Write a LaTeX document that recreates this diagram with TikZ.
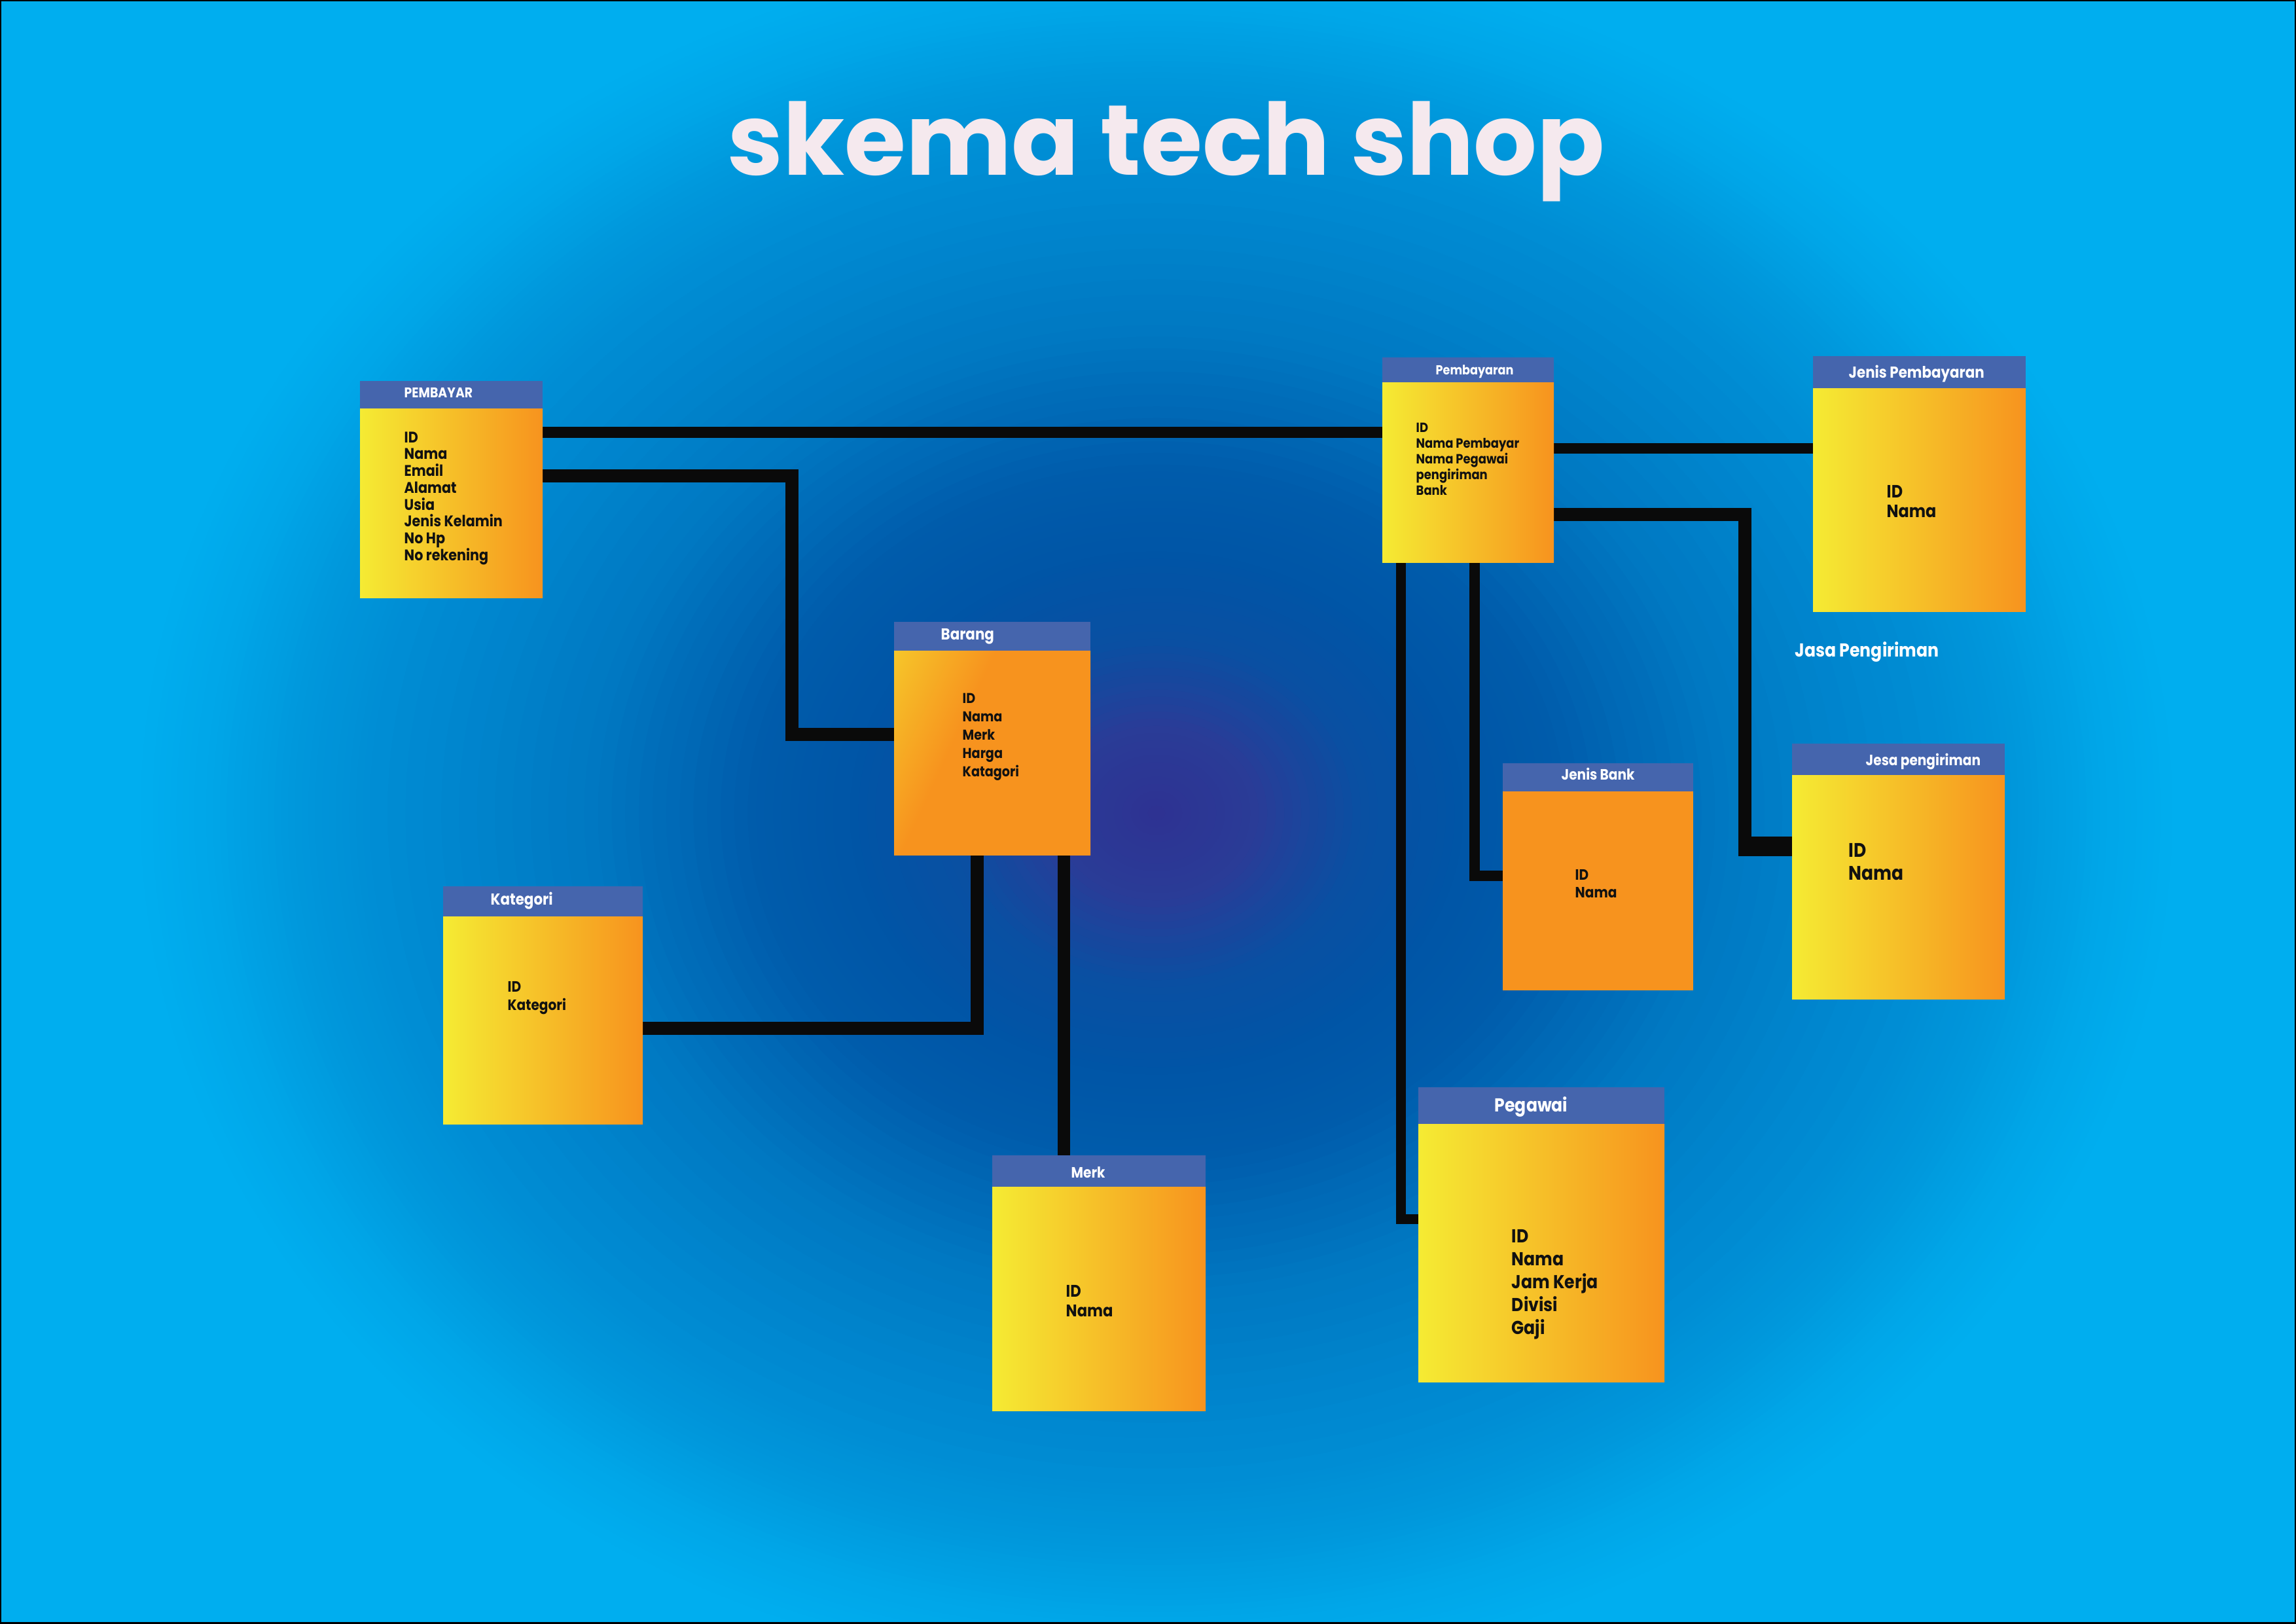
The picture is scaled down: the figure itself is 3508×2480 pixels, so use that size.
\documentclass[tikz,border=0pt]{standalone}
\usepackage{fontspec}
\newfontfamily\pop[FakeStretch=0.88]{Poppins}
\newfontfamily\poptitle{Poppins}
\usetikzlibrary{calc}
\definecolor{bg0}{HTML}{2E3192}
\definecolor{bg1}{HTML}{2A3C97}
\definecolor{bg2}{HTML}{0A4FA2}
\definecolor{bg3}{HTML}{0055A6}
\definecolor{bg4}{HTML}{005CAB}
\definecolor{bg5}{HTML}{0078C2}
\definecolor{bg6}{HTML}{008DD4}
\definecolor{bg7}{HTML}{0098DC}
\definecolor{bg8}{HTML}{00A6E8}
\definecolor{bg9}{HTML}{00AEEF}
\definecolor{hdr}{HTML}{4565AD}
\definecolor{yel}{HTML}{F5EB33}
\definecolor{orn}{HTML}{F7931E}
\definecolor{ink}{HTML}{111111}
\definecolor{ttl}{HTML}{F5E9EE}
\definecolor{lnk}{HTML}{0A0A0A}
\pgfdeclarehorizontalshading{brsh}{100bp}{color(0bp)=(yel); color(40bp)=(orn); color(100bp)=(orn)}
\pgfdeclarelayer{back}
\pgfdeclarelayer{lines}
\pgfsetlayers{back,lines,main}
\newcommand\fsz[2]{\fontsize{#1pt}{#2pt}\selectfont}
\tikzset{
  body/.style={inner sep=0pt, outer sep=0pt, anchor=north west, draw=none},
  grad/.style={shade, left color=yel, right color=orn},
  hdrbox/.style={fill=hdr, inner sep=0pt, outer sep=0pt, anchor=south west, draw=none},
  hdrtxt/.style={text=white, anchor=base west, inner sep=0pt},
  items/.style={text=ink, anchor=north west, align=left, inner sep=0pt},
  conn/.style={draw=lnk, line join=miter, line cap=butt},
}
\begin{document}
\begin{tikzpicture}[x=0.01cm, y=-0.01cm]
\useasboundingbox (0,0) rectangle (3508,2480);
% background
\begin{pgfonlayer}{back}
\fill[bg9] (0,0) rectangle (3508,2480);
\foreach \ra/\rb/\ca/\cb in {1.00/0.93/bg9/bg8, 0.93/0.85/bg8/bg7, 0.85/0.77/bg7/bg6, 0.77/0.56/bg6/bg5, 0.56/0.40/bg5/bg4, 0.40/0.30/bg4/bg3, 0.30/0.20/bg3/bg2, 0.20/0.10/bg2/bg1, 0.10/0.00/bg1/bg0} {
  \foreach \k in {0,...,11} {
    \pgfmathsetmacro\rr{\ra-(\ra-\rb)*\k/12}
    \pgfmathtruncatemacro\pp{100-100*\k/12}
    \fill[\ca!\pp!\cb] (1767,1242) ellipse [x radius=\rr*15.6cm, y radius=\rr*13.3cm];
  }
}
\draw[black, line width=0.04cm] (0.02,0.02) rectangle (3507.98,2479.98);
\end{pgfonlayer}

% title
\node[text=ttl, anchor=base, inner sep=0pt, font=\poptitle\bfseries\fsz{43.3}{50}] (title) at (1782,267) {skema tech shop};

% boxes
\node[body, grad, minimum width=2.79cm, minimum height=2.89cm] (pb) at (550,624) {};
\node[hdrbox, minimum width=2.79cm, minimum height=0.42cm] (pbh) at (pb.north west) {};
\node[hdrtxt, font=\pop\bfseries\fsz{6.1}{7}] (pbt) at (617,607) {PEMBAYAR};
\node[items, font=\pop\bfseries\fsz{6.7}{7.31}] (pbi) at (617,659) {ID\\Nama\\Email\\Alamat\\Usia\\Jenis Kelamin\\No Hp\\No rekening};

\node[body, shade, shading=brsh, shading angle=-25, minimum width=3.00cm, minimum height=3.12cm] (br) at (1366,994) {};
\node[hdrbox, minimum width=3.00cm, minimum height=0.44cm] (brh) at (br.north west) {};
\node[hdrtxt, font=\pop\bfseries\fsz{6.91}{8}] (brt) at (1437,977) {Barang};
\node[items, font=\pop\bfseries\fsz{6.2}{7.97}] (bri) at (1470,1058) {ID\\Nama\\Merk\\Harga\\Katagori};

\node[body, grad, minimum width=2.62cm, minimum height=2.75cm] (pm) at (2112,584) {};
\node[hdrbox, minimum width=2.62cm, minimum height=0.38cm] (pmh) at (pm.north west) {};
\node[hdrtxt, font=\pop\bfseries\fsz{5.69}{7}] (pmt) at (2193,572) {Pembayaran};
\node[items, font=\pop\bfseries\fsz{5.8}{6.83}] (pmi) at (2163,645) {ID\\Nama Pembayar\\Nama Pegawai\\pengiriman\\Bank};

\node[body, grad, minimum width=3.25cm, minimum height=3.41cm] (jp) at (2770,593) {};
\node[hdrbox, minimum width=3.25cm, minimum height=0.49cm] (jph) at (jp.north west) {};
\node[hdrtxt, font=\pop\bfseries\fsz{6.91}{8}] (jpt) at (2824,577) {Jenis Pembayaran};
\node[items, font=\pop\bfseries\fsz{7.72}{8.54}] (jpi) at (2882,741) {ID\\Nama};

\node[body, fill=orn, minimum width=2.91cm, minimum height=3.04cm] (jb) at (2296,1209) {};
\node[hdrbox, minimum width=2.91cm, minimum height=0.43cm] (jbh) at (jb.north west) {};
\node[hdrtxt, font=\pop\bfseries\fsz{6.5}{8}] (jbt) at (2385,1191) {Jenis Bank};
\node[items, font=\pop\bfseries\fsz{6.5}{7.68}] (jbi) at (2406,1328) {ID\\Nama};

\node[body, grad, minimum width=3.25cm, minimum height=3.42cm] (js) at (2738,1184) {};
\node[hdrbox, minimum width=3.25cm, minimum height=0.48cm] (jsh) at (js.north west) {};
\node[hdrtxt, font=\pop\bfseries\fsz{6.5}{8}] (jst) at (2850,1169) {Jesa pengiriman};
\node[items, font=\pop\bfseries\fsz{8.54}{9.96}] (jsi) at (2824,1288) {ID\\Nama};

\node[body, grad, minimum width=3.76cm, minimum height=3.94cm] (pg) at (2167,1717) {};
\node[hdrbox, minimum width=3.76cm, minimum height=0.56cm] (pgh) at (pg.north west) {};
\node[hdrtxt, font=\pop\bfseries\fsz{8.13}{9}] (pgt) at (2283,1698) {Pegawai};
\node[items, font=\pop\bfseries\fsz{8.13}{9.96}] (pgi) at (2309,1878) {ID\\Nama\\Jam Kerja\\Divisi\\Gaji};

\node[body, grad, minimum width=3.05cm, minimum height=3.17cm] (kt) at (677,1400) {};
\node[hdrbox, minimum width=3.05cm, minimum height=0.46cm] (kth) at (kt.north west) {};
\node[hdrtxt, font=\pop\bfseries\fsz{6.91}{8}] (ktt) at (749,1382) {Kategori};
\node[items, font=\pop\bfseries\fsz{6.5}{7.97}] (kti) at (775,1499) {ID\\Kategori};

\node[body, grad, minimum width=3.26cm, minimum height=3.42cm] (mk) at (1516,1813) {};
\node[hdrbox, minimum width=3.26cm, minimum height=0.48cm] (mkh) at (mk.north west) {};
\node[hdrtxt, font=\pop\bfseries\fsz{6.5}{8}] (mkt) at (1636,1799) {Merk};
\node[items, font=\pop\bfseries\fsz{7.32}{8.54}] (mki) at (1628,1963) {ID\\Nama};

% free label
\node[hdrtxt, font=\pop\bfseries\fsz{8.13}{9}] (jasa) at (2742,1003) {Jasa Pengiriman};

% connectors
\begin{pgfonlayer}{lines}
\draw[conn, line width=0.17cm] (pb.east |- 0,660) -- (pm.west |- 0,660);
\draw[conn, line width=0.20cm] (pb.east |- 0,727) -| (1210,1122) -- (br.west |- 0,1122);
\draw[conn, line width=0.20cm] (br.south -| 1493,0) |- (kt.east |- 0,1571);
\draw[conn, line width=0.19cm] (br.south -| 1625,0) -- (mkh.north -| 1625,0);
\draw[conn, line width=0.16cm] (pm.east |- 0,685) -- (jp.west |- 0,685);
\draw[conn, line width=0.20cm] (pm.east |- 0,786) -| (2666,1298) -- (js.west |- 0,1298);
\draw[conn, line width=0.30cm] (2666,1293) -- (js.west |- 0,1293);
\draw[conn, line width=0.16cm] (pm.south -| 2253,0) |- (jb.west |- 0,1338);
\draw[conn, line width=0.15cm] (pm.south -| 2140,0) |- (pg.west |- 0,1862);
\end{pgfonlayer}
\end{tikzpicture}
\end{document}
